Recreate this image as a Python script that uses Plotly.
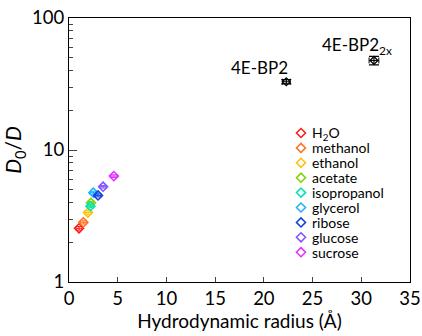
import plotly.graph_objects as go

names = ["H<sub>2</sub>O", "methanol", "ethanol", "acetate", "isopropanol",
         "glycerol", "ribose", "glucose", "sucrose"]
radius = [1.03, 1.47, 1.95, 2.25, 2.2, 2.5, 2.98, 3.5, 4.6]
ratio = [2.55, 2.83, 3.36, 3.98, 3.75, 4.75, 4.53, 5.27, 6.34]
radius_err = [0.3, 0.3, 0.3, 0.3, 0.3, 0.3, 0.3, 0.3, 0.3]
ratio_err = [0.08, 0.08, 0.1, 0.1, 0.1, 0.12, 0.12, 0.12, 0.15]
colors = ["#ff1a1a", "#ff7020", "#ffc000", "#80d000", "#00e6b0",
          "#1ab0ff", "#1040e0", "#8050ff", "#e030ff"]

prot_names = ["4E-BP2", "4E-BP2<sub>2x</sub>"]
prot_radius = [22.3, 31.3]
prot_ratio = [32.9, 47.7]
prot_radius_err = [0.4, 0.5]
prot_ratio_err = [1.2, 3.5]

# legend layout (pixel-like overlay axis)
legend_x = 301
legend_text_x = 311
legend_y0 = 133
legend_step = 14.9

font = "Lato, 'Open Sans', sans-serif"
fig = go.Figure()
for n, x, y, xe, ye, c in zip(names, radius, ratio, radius_err, ratio_err, colors):
    fig.add_trace(go.Scatter(
        x=[x], y=[y], mode="markers", name=n, showlegend=False,
        marker=dict(symbol="diamond-open", size=7, color=c, line=dict(width=1.5, color=c)),
        error_x=dict(type="data", array=[xe], color=c, thickness=1, width=2),
        error_y=dict(type="data", array=[ye], color=c, thickness=1, width=3),
    ))

fig.add_trace(go.Scatter(
    x=prot_radius, y=prot_ratio, mode="markers", showlegend=False,
    marker=dict(symbol="diamond-open", size=6, color="black", line=dict(width=1.3, color="black")),
    error_x=dict(type="data", array=prot_radius_err, color="black", thickness=1, width=3),
    error_y=dict(type="data", array=prot_ratio_err, color="black", thickness=1.2, width=5),
))

# manual legend
leg_y = [legend_y0 + i * legend_step for i in range(len(names))]
fig.add_trace(go.Scatter(
    x=[legend_x] * len(names), y=leg_y, xaxis="x2", yaxis="y2",
    mode="markers",
    marker=dict(symbol="diamond-open", size=7, color=colors, line=dict(width=1.5, color=colors)),
    showlegend=False, hoverinfo="skip", cliponaxis=False,
))
for n, yy in zip(names, leg_y):
    fig.add_annotation(x=legend_text_x, y=yy, xref="x2", yref="y2", text=n,
                       showarrow=False, xanchor="left", yanchor="middle", borderpad=0,
                       font=dict(size=14, color="black", family=font))

fig.add_annotation(x=prot_radius[0], y=1.517, xref="x", yref="y", text=prot_names[0],
                   showarrow=False, xshift=-27, yshift=14, font=dict(size=17, color="black", family=font))
fig.add_annotation(x=prot_radius[1], y=1.679, xref="x", yref="y", text=prot_names[1],
                   showarrow=False, xshift=-17, yshift=14, font=dict(size=17, color="black", family=font))

fig.update_layout(
    width=422, height=336,
    margin=dict(l=69, r=12, t=18, b=54),
    plot_bgcolor="white", paper_bgcolor="white",
    font=dict(family=font, size=19, color="black"),
    showlegend=False,
    xaxis=dict(range=[0, 35], dtick=5, ticks="inside", ticklen=5, tickwidth=1,
               showline=True, linecolor="black", linewidth=1.3, mirror=True,
               showgrid=False, zeroline=False, automargin=False,
               title=dict(text="Hydrodynamic radius (Å)", standoff=2, font=dict(size=19)),
               tickfont=dict(size=18.5)),
    yaxis=dict(type="log", range=[0, 2], dtick=1, ticks="inside", ticklen=8, tickwidth=1,
               showline=True, linecolor="black", linewidth=1.3, mirror=True,
               showgrid=False, zeroline=False, automargin=False,
               minor=dict(ticks="inside", ticklen=4, tickwidth=1, dtick="D1", showgrid=False),
               title=dict(text="<i>D</i><sub>0</sub>/<i>D</i>", standoff=4, font=dict(size=21)),
               tickfont=dict(size=18.5)),
    xaxis2=dict(range=[69, 410], overlaying="x", visible=False, fixedrange=True),
    yaxis2=dict(range=[282, 18], overlaying="y", visible=False, fixedrange=True),
)

fig.write_html("out.html")
